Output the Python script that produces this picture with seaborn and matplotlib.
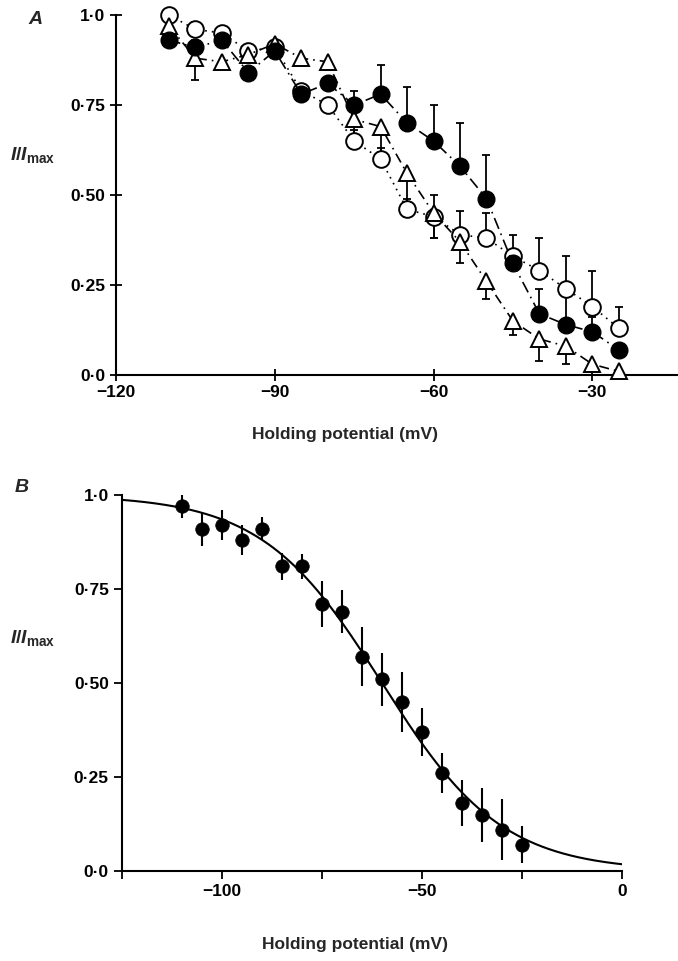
import matplotlib
matplotlib.use('Agg')
import matplotlib.pyplot as plt
import seaborn as sns
import numpy as np
import pandas as pd

# ---------------- data ----------------
# Panel A: holding potential (mV)
volts_A = [-110, -105, -100, -95, -90, -85, -80, -75, -70, -65, -60, -55, -50, -45, -40, -35, -30, -25]
filled_A = [0.93, 0.91, 0.93, 0.84, 0.90, 0.78, 0.81, 0.75, 0.78, 0.70, 0.65, 0.58, 0.49, 0.31, 0.17, 0.14, 0.12, 0.07]
filled_err_hi = [0.00, 0.02, 0.00, 0.00, 0.02, 0.02, 0.00, 0.04, 0.08, 0.10, 0.10, 0.12, 0.12, 0.08, 0.07, 0.10, 0.06, 0.00]
open_A = [1.00, 0.96, 0.95, 0.90, 0.91, 0.79, 0.75, 0.65, 0.60, 0.46, 0.44, 0.39, 0.38, 0.33, 0.29, 0.24, 0.19, 0.13]
open_err_hi = [0.00, 0.02, 0.00, 0.00, 0.00, 0.00, 0.00, 0.03, 0.03, 0.03, 0.06, 0.065, 0.07, 0.00, 0.09, 0.09, 0.10, 0.06]
open_err_lo = [0.00, 0.00, 0.00, 0.00, 0.00, 0.00, 0.00, 0.02, 0.02, 0.02, 0.06, 0.00, 0.00, 0.00, 0.00, 0.00, 0.03, 0.00]
tri_A = [0.97, 0.88, 0.87, 0.89, 0.92, 0.88, 0.87, 0.71, 0.69, 0.56, 0.45, 0.37, 0.26, 0.15, 0.10, 0.08, 0.03, 0.01]
tri_err_lo = [0.00, 0.06, 0.00, 0.00, 0.00, 0.01, 0.00, 0.06, 0.07, 0.09, 0.07, 0.06, 0.05, 0.04, 0.06, 0.05, 0.02, 0.00]

# Panel B
volts_B = [-110, -105, -100, -95, -90, -85, -80, -75, -70, -65, -60, -55, -50, -45, -40, -35, -30, -25]
mean_B = [0.97, 0.91, 0.92, 0.88, 0.91, 0.81, 0.81, 0.71, 0.69, 0.57, 0.51, 0.45, 0.37, 0.26, 0.18, 0.15, 0.11, 0.07]
err_B = [0.031, 0.045, 0.041, 0.040, 0.031, 0.035, 0.034, 0.062, 0.058, 0.078, 0.070, 0.080, 0.063, 0.053, 0.061, 0.072, 0.082, 0.049]
# Boltzmann fit parameters
V_half = -60.0
k_slope = 15.0

xticks_A = [-120, -90, -60, -30]
xticklabels_A = ['\u2212120', '\u221290', '\u221260', '\u221230']
xticks_B = [-125, -100, -75, -50, -25, 0]
xticklabels_B = ['', '\u2212100', '', '\u221250', '', '0']
yticks = [0.0, 0.25, 0.50, 0.75, 1.0]
yticklabels = ['0\u00b70', '0\u00b725', '0\u00b750', '0\u00b775', '1\u00b70']

# ---------------- style ----------------
sns.set_theme(style='ticks')
plt.rcParams['font.family'] = ['Liberation Sans', 'DejaVu Sans']
plt.rcParams['font.weight'] = 'bold'
plt.rcParams['mathtext.fontset'] = 'custom'
plt.rcParams['mathtext.it'] = 'Liberation Sans:italic:bold'
plt.rcParams['mathtext.bf'] = 'Liberation Sans:bold'
plt.rcParams['mathtext.rm'] = 'Liberation Sans:bold'

W, H = 678, 961
fig = plt.figure(figsize=(W / 100, H / 100), dpi=100)
fig.patch.set_facecolor('white')


def px_axes(l, t, r, b):
    return fig.add_axes([l / W, 1 - b / H, (r - l) / W, (b - t) / H])


def style_axes(ax, direction):
    for s in ['top', 'right']:
        ax.spines[s].set_visible(False)
    for s in ['left', 'bottom']:
        ax.spines[s].set_color('black')
        ax.spines[s].set_linewidth(1.5)
    ax.set_facecolor('white')
    ax.grid(False)
    ax.tick_params(direction=direction, length=8 if direction == 'inout' else 6,
                   width=1.3, color='black', labelsize=12.5, labelcolor='black')
    ax.set_yticks(yticks)
    ax.set_yticklabels(yticklabels, fontweight='bold')
    ax.set_ylim(0, 1)
    ax.set_xlabel('')
    ax.set_ylabel('')


# ---------------- Panel A ----------------
axA = px_axes(116, 15, 677, 375)
dfA = pd.DataFrame({'V': volts_A, 'filled': filled_A, 'open': open_A, 'tri': tri_A})

axA.errorbar(volts_A, filled_A, yerr=[np.zeros(len(volts_A)), filled_err_hi], fmt='none',
             ecolor='black', elinewidth=1.3, capsize=2.8, capthick=1.3, zorder=2, clip_on=False)
axA.errorbar(volts_A, open_A, yerr=[open_err_lo, open_err_hi], fmt='none',
             ecolor='black', elinewidth=1.3, capsize=2.8, capthick=1.3, zorder=2, clip_on=False)
axA.errorbar(volts_A, tri_A, yerr=[tri_err_lo, np.zeros(len(volts_A))], fmt='none',
             ecolor='black', elinewidth=1.3, capsize=2.8, capthick=1.3, zorder=2, clip_on=False)

sns.lineplot(data=dfA, x='V', y='open', ax=axA, color='black', linestyle=(0, (1, 3)), lw=1.2,
             marker='o', markersize=12, markerfacecolor='white', markeredgecolor='black',
             markeredgewidth=1.4, zorder=3, clip_on=False, errorbar=None)
sns.lineplot(data=dfA, x='V', y='tri', ax=axA, color='black', linestyle=(0, (6, 3, 1, 3)), lw=1.2,
             marker='^', markersize=12, markerfacecolor='white', markeredgecolor='black',
             markeredgewidth=1.4, zorder=4, clip_on=False, errorbar=None)
sns.lineplot(data=dfA, x='V', y='filled', ax=axA, color='black', linestyle=(0, (7, 3, 1, 3)), lw=1.2,
             marker='o', markersize=12, markerfacecolor='black', markeredgecolor='black',
             markeredgewidth=1.0, zorder=5, clip_on=False, errorbar=None)

axA.set_xlim(-120, -14)
style_axes(axA, 'inout')
axA.set_xticks(xticks_A)
axA.set_xticklabels(xticklabels_A, fontweight='bold')

# ---------------- Panel B ----------------
axB = px_axes(122, 495, 622, 871)
v_fit = np.linspace(-125, 0, 400)
dfFit = pd.DataFrame({'V': v_fit, 'I': 1.0 / (1.0 + np.exp((v_fit - V_half) / k_slope))})
sns.lineplot(data=dfFit, x='V', y='I', ax=axB, color='black', lw=1.5, zorder=3, errorbar=None)
axB.errorbar(volts_B, mean_B, yerr=err_B, fmt='none', ecolor='black', elinewidth=1.5,
             capsize=0, zorder=4)
dfB = pd.DataFrame({'V': volts_B, 'I': mean_B})
sns.scatterplot(data=dfB, x='V', y='I', ax=axB, color='black', s=95, edgecolor='black',
                linewidth=0.5, zorder=5)

axB.set_xlim(-125, 0)
style_axes(axB, 'out')
axB.set_xticks(xticks_B)
axB.set_xticklabels(xticklabels_B, fontweight='bold')

# ---------------- labels ----------------
fig.text(35 / W, 1 - 20 / H, 'A', fontsize=14, fontstyle='italic', fontweight='bold',
         ha='center', va='center')
fig.text(22 / W, 1 - 487 / H, 'B', fontsize=14, fontstyle='italic', fontweight='bold',
         ha='center', va='center')
for yc in (155, 638):
    fig.text(10 / W, 1 - yc / H, r'$\mathit{I}/\mathit{I}_{\mathbf{max}}$', fontsize=14,
             ha='left', va='center')
fig.text(345 / W, 1 - 435 / H, 'Holding potential (mV)', fontsize=12.5, fontweight='bold',
         ha='center', va='center')
fig.text(355 / W, 1 - 945 / H, 'Holding potential (mV)', fontsize=12.5, fontweight='bold',
         ha='center', va='center')

fig.savefig('out.png', dpi=100, facecolor='white')
